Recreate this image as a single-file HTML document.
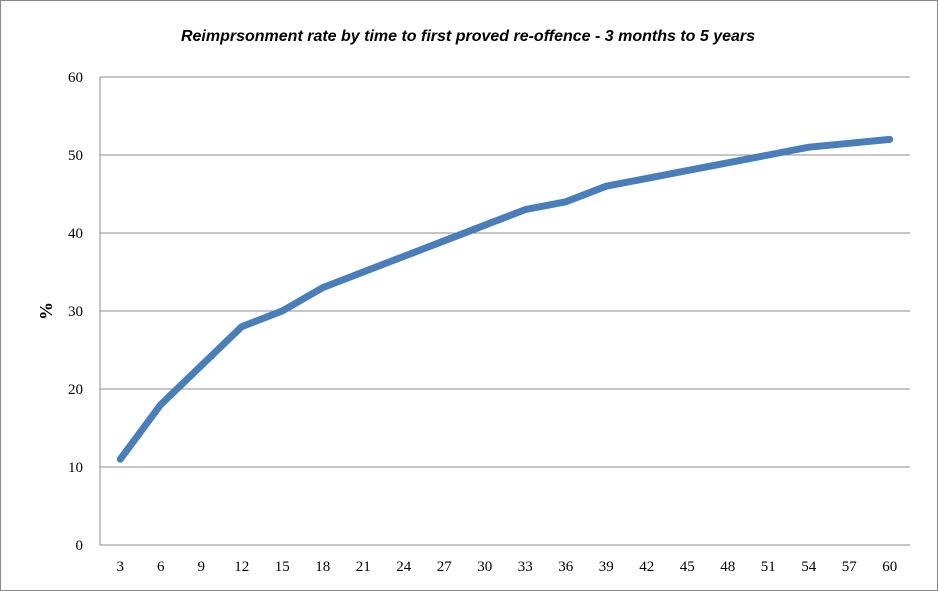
<!DOCTYPE html>
<html><head><meta charset="utf-8"><style>
html,body{margin:0;padding:0;background:#fff}
svg{display:block}
.tick{font-family:"Liberation Serif",serif;font-size:15px;fill:#000}
</style></head><body>
<svg id="chart" width="938" height="591" xmlns="http://www.w3.org/2000/svg">
<rect x="0.5" y="0.5" width="937" height="590" fill="#fff" stroke="#888"/>
<text x="468" y="41" text-anchor="middle" font-family="Liberation Sans,sans-serif" font-size="16" font-style="italic" font-weight="bold">Reimprsonment rate by time to first proved re-offence - 3 months to 5 years</text>
<text transform="translate(52,311) rotate(-90)" text-anchor="middle" font-family="Liberation Serif,serif" font-size="18" font-weight="bold">%</text>
<g id="grid"></g><g id="axes"></g><g id="series"></g>
</svg>
<script>
const categories=[3,6,9,12,15,18,21,24,27,30,33,36,39,42,45,48,51,54,57,60];
const values=[11,18,23,28,30,33,35,37,39,41,43,44,46,47,48,49,50,51,51.5,52];
const yTicks=[0,10,20,30,40,50,60];
const NS="http://www.w3.org/2000/svg";
const L=100,R=910,T=77,B=545,yMax=60;
const band=(R-L)/categories.length;
const x=i=>L+band*(i+0.5);
const y=v=>B-(v/yMax)*(B-T);
function mk(t,a,p){const e=document.createElementNS(NS,t);for(const k in a)e.setAttribute(k,a[k]);p.appendChild(e);return e;}
const grid=document.getElementById('grid'),axes=document.getElementById('axes'),ser=document.getElementById('series');
yTicks.forEach(v=>{
 if(v>0){const g=mk('line',{x1:L,x2:R,y1:y(v),y2:y(v),stroke:'#8c8c8c','stroke-width':1},grid);
 
 }
 const t=mk('text',{x:L-17,y:y(v)+5,'text-anchor':'end',class:'tick'},axes);t.textContent=v;
 
 
});
const ya=mk('line',{x1:L,x2:L,y1:T,y2:B,stroke:'#8c8c8c'},axes);


const xa=mk('line',{x1:L,x2:R,y1:B,y2:B,stroke:'#8c8c8c'},axes);


categories.forEach((c,i)=>{
 const t=mk('text',{x:x(i),y:B+26,'text-anchor':'middle',class:'tick'},axes);t.textContent=c;
 
 
});
const pts=values.map((v,i)=>x(i)+','+y(v)).join(' ');
const pl=mk('polyline',{points:pts,fill:'none',stroke:'#4a7ebb','stroke-width':7,'stroke-linejoin':'round','stroke-linecap':'round'},ser);


</script>
</body></html>
